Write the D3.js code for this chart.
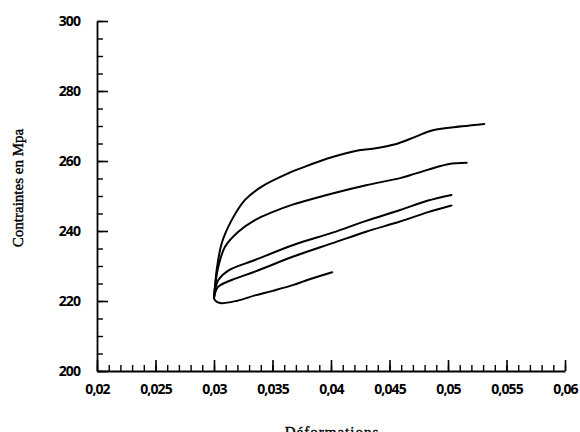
<!DOCTYPE html>
<html><head><meta charset="utf-8">
<script src="https://cdn.jsdelivr.net/npm/d3@7"></script>
<style>body{margin:0;background:#fff}svg{display:block}</style>
</head><body>
<script>
// ---- data ----
const xTickValues = [0.02, 0.025, 0.03, 0.035, 0.04, 0.045, 0.05, 0.055, 0.06];
const xTickLabels = ["0,02", "0,025", "0,03", "0,035", "0,04", "0,045", "0,05", "0,055", "0,06"];
const yTickValues = [200, 220, 240, 260, 280, 300];
const yTickLabels = ["200", "220", "240", "260", "280", "300"];
const xLabel = "Déformations";
const yLabel = "Contraintes en Mpa";

const curve1 = [[0.0300,221.0],[0.03008,224.0],[0.03023,228.9],[0.03066,236.5],[0.03151,243.1],[0.03265,248.9],[0.03408,252.7],[0.03635,256.5],[0.03778,258.4],[0.04020,261.2],[0.04200,262.8],[0.04370,263.6],[0.04550,264.8],[0.04720,266.9],[0.04870,268.8],[0.05120,269.9],[0.05310,270.6]];
const curve2 = [[0.0300,221.0],[0.03012,225.0],[0.03037,229.8],[0.03094,235.5],[0.03208,239.8],[0.03350,243.1],[0.03493,245.3],[0.03678,247.6],[0.04020,250.8],[0.04300,253.1],[0.04590,255.1],[0.04720,256.4],[0.05000,259.1],[0.05160,259.5]];
const curve3 = [[0.0300,221.0],[0.03012,223.5],[0.03037,226.0],[0.03122,228.7],[0.03350,231.7],[0.03678,236.0],[0.04020,239.6],[0.04300,242.9],[0.04590,246.0],[0.04830,248.7],[0.05030,250.3]];
const curve4 = [[0.0300,221.0],[0.03012,222.6],[0.03037,224.1],[0.03151,226.0],[0.03350,228.4],[0.03678,232.7],[0.04020,236.6],[0.04300,239.8],[0.04590,242.7],[0.04830,245.4],[0.05030,247.3]];
const curve5 = [[0.0300,221.0],[0.03009,220.2],[0.03051,219.4],[0.03200,220.1],[0.03350,221.6],[0.03500,222.9],[0.03680,224.6],[0.03780,225.8],[0.04010,228.2]];
const series = [curve1, curve2, curve3, curve4, curve5];

// ---- drawing ----
const W = 580, H = 432;
const svg = d3.select("body").append("svg").attr("width", W).attr("height", H);
const x = d3.scaleLinear().domain([0.02, 0.06]).range([97, 565]);
const y = d3.scaleLinear().domain([200, 300]).range([371, 21]);

const tickFont = "'Open Sans', sans-serif";

// minor ticks
const xMinor = d3.range(0, 41).map(i => 0.02 + i * 0.001);
const yMinor = d3.range(0, 21).map(i => 200 + i * 5);
svg.append("g").attr("transform", "translate(0,371)")
  .call(d3.axisBottom(x).tickValues(xMinor).tickSize(-6).tickFormat(""))
  .call(g => g.select(".domain").remove())
  .call(g => g.selectAll("line").attr("stroke-width", 1.4));
svg.append("g").attr("transform", "translate(97,0)")
  .call(d3.axisLeft(y).tickValues(yMinor).tickSize(-6).tickFormat(""))
  .call(g => g.select(".domain").remove())
  .call(g => g.selectAll("line").attr("stroke-width", 1.4));

// major axes
const xAxis = svg.append("g").attr("transform", "translate(0,371)")
  .call(d3.axisBottom(x).tickValues(xTickValues).tickSize(-11).tickSizeOuter(0).tickPadding(13)
    .tickFormat((d, i) => xTickLabels[i]));
const yAxis = svg.append("g").attr("transform", "translate(97,0)")
  .call(d3.axisLeft(y).tickValues(yTickValues).tickSize(-11).tickSizeOuter(0).tickPadding(17)
    .tickFormat((d, i) => yTickLabels[i]));
[xAxis, yAxis].forEach(g => {
  g.select(".domain").attr("stroke-width", 1.8);
  g.selectAll("line").attr("stroke-width", 1.6);
  g.selectAll("text").attr("font-family", tickFont).attr("font-size", 14)
    .attr("font-weight", 700).attr("letter-spacing", -0.9).attr("fill", "#000");
});

// curves
const line = d3.line().x(d => x(d[0])).y(d => y(d[1])).curve(d3.curveCatmullRom.alpha(0.5));
svg.append("g").selectAll("path").data(series).join("path")
  .attr("d", line).attr("fill", "none").attr("stroke", "#000")
  .attr("stroke-width", 2).attr("stroke-linecap", "round").attr("stroke-linejoin", "round");

// axis titles
svg.append("text").attr("x", 332).attr("y", 437).attr("text-anchor", "middle")
  .attr("font-family", "'Liberation Serif', serif").attr("font-size", 15)
  .attr("letter-spacing", 1).attr("stroke", "#000").attr("stroke-width", 0.4).text(xLabel);
svg.append("text").attr("transform", "translate(23,188) rotate(-90)").attr("text-anchor", "middle")
  .attr("font-family", "'Liberation Serif', serif").attr("font-size", 15)
  .attr("stroke", "#000").attr("stroke-width", 0.4).text(yLabel);
</script>
</body></html>
